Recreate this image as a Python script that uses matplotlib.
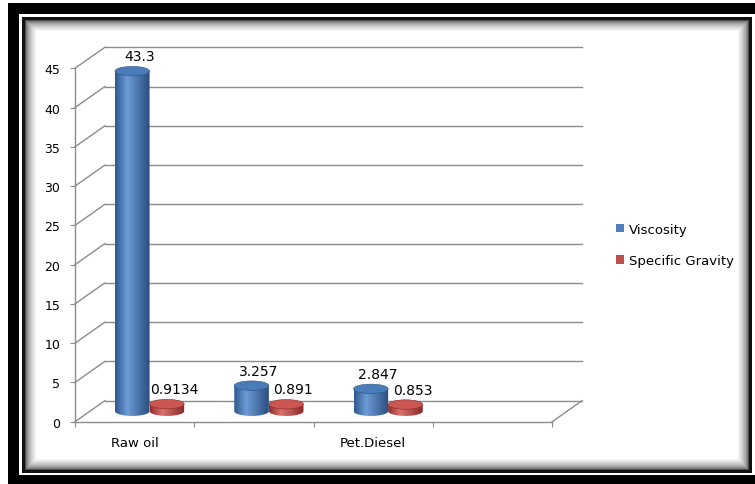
import numpy as np
import matplotlib.pyplot as plt
from matplotlib.colors import to_rgb
from matplotlib.patches import Ellipse, Patch, Polygon, Rectangle

# chart values
categories = ['Raw oil', '', 'Pet.Diesel', '']
viscosity = [43.3, 3.257, 2.847, np.nan]
specific_gravity = [0.9134, 0.891, 0.853, np.nan]
y_ticks = [0, 5, 10, 15, 20, 25, 30, 35, 40, 45]
series_names = ['Viscosity', 'Specific Gravity']

# look of the pseudo-3D chart
DEPTH_X = 0.25      # category units
DEPTH_Y = 2.67      # value units
BAR_W = 0.29
ELL_H = 1.2
GRID = '#8c8c8c'

styles = [
    dict(face='#4F81BD', top='#4a7cb9', edge='#2c5283',
         shades=([0, 0.35, 1], ['#2f5a90', '#6d9bd6', '#2a4e7e'])),
    dict(face='#C0504D', top='#cc5752', edge='#8a2a28',
         shades=([0, 0.35, 1], ['#8f2f2c', '#d9726d', '#892927'])),
]


def cylinder(ax, xc, value, base, style, z):
    x0, x1 = xc - BAR_W / 2, xc + BAR_W / 2
    top = base + value
    t = np.linspace(0, np.pi, 60)
    bottom = np.column_stack([xc - BAR_W / 2 * np.cos(t),
                              base - ELL_H / 2 * np.sin(t)])
    outline = np.vstack([[x0, top], bottom, [x1, top]])
    body = Polygon(outline, closed=True, facecolor='none',
                   edgecolor='none', zorder=z)
    ax.add_patch(body)

    stops, cols = style['shades']
    cols = [to_rgb(c) for c in cols]
    u = np.linspace(0, 1, 64)
    grad = np.stack([np.interp(u, stops, [c[k] for c in cols])
                     for k in range(3)], axis=-1)[None, :, :]
    im = ax.imshow(grad, extent=(x0, x1, base - ELL_H / 2, top),
                   aspect='auto', interpolation='bilinear', zorder=z)
    im.set_clip_path(body)

    ax.add_patch(Ellipse((xc, top), BAR_W, ELL_H, facecolor=style['top'],
                         edgecolor=style['edge'], lw=0.4, zorder=z + 0.1))
    return top


fig = plt.figure(figsize=(7.55, 4.85), dpi=100)

# framed background in pixel units
bg = fig.add_axes([0, 0, 1, 1], zorder=0)
bg.set_xlim(0, 755)
bg.set_ylim(485, 0)
bg.axis('off')
bg.add_patch(Rectangle((8, 4), 760, 490, facecolor='black', edgecolor='none'))
bg.add_patch(Rectangle((19, 15), 745, 461, facecolor='white', edgecolor='none'))
bg.add_patch(Rectangle((22, 18), 730, 456, facecolor='#111111', edgecolor='none'))
n_ring = 11
for i in range(n_ring + 1):
    inset = 3 + i
    level = 0.3 + 0.7 * (i / n_ring) ** 0.55
    bg.add_patch(Rectangle((22 + inset, 18 + inset), 730 - 2 * inset,
                           456 - 2 * inset, facecolor=(level,) * 3,
                           edgecolor='none'))

# plot area: left wall, floor and back wall
n = len(categories)
ax = fig.add_axes([75 / 755, 1 - 422.7 / 485, 507 / 755, 374.4 / 485], zorder=1)
ax.patch.set_visible(False)
for s in ax.spines.values():
    s.set_visible(False)

for v in y_ticks:
    ax.plot([DEPTH_X, n + DEPTH_X], [v + DEPTH_Y] * 2, color=GRID, lw=1,
            zorder=1, clip_on=False)
    ax.plot([0, DEPTH_X], [v, v + DEPTH_Y], color=GRID, lw=1, zorder=1,
            clip_on=False)
ax.plot([0, 0], [0, y_ticks[-1]], color=GRID, lw=1, zorder=1, clip_on=False)
ax.plot([0, n], [0, 0], color=GRID, lw=1, zorder=1, clip_on=False)
ax.plot([n, n + DEPTH_X], [0, DEPTH_Y], color=GRID, lw=1, zorder=1,
        clip_on=False)

# cylinders and value labels
offsets = [-BAR_W / 2, BAR_W / 2]
for k, values in enumerate([viscosity, specific_gravity]):
    for i, v in enumerate(values):
        if np.isnan(v):
            continue
        xc = i + 0.5 + offsets[k] + DEPTH_X / 2
        top = cylinder(ax, xc, v, DEPTH_Y / 2, styles[k], z=3 - k)
        ax.annotate(str(v), (xc, top), xytext=(7, 15),
                    textcoords='offset pixels', ha='center', va='center',
                    fontsize=10, color='black', zorder=5)

ax.set_xlim(0, n + DEPTH_X)
ax.set_ylim(0, y_ticks[-1] + DEPTH_Y)

ax.set_yticks(y_ticks)
ax.tick_params(axis='y', length=3.6, width=0.8, color=GRID, labelsize=9,
               pad=7)
ax.set_xticks(np.arange(n + 1))
ax.set_xticklabels([])
ax.set_xticks(np.arange(n) + 0.5, minor=True)
ax.set_xticklabels(categories, minor=True)
ax.tick_params(axis='x', which='major', length=3.6, width=0.8, color=GRID)
ax.tick_params(axis='x', which='minor', length=0, labelsize=9.5, pad=10)

handles = [Patch(facecolor=st['face'], edgecolor='none') for st in styles]
fig.legend(handles, series_names, loc='center left',
           bbox_to_anchor=(616 / 755, 1 - 246 / 485), frameon=False,
           fontsize=9.5, handlelength=0.6, handleheight=0.6,
           handletextpad=0.35, labelspacing=1.4, borderpad=0,
           borderaxespad=0)

fig.savefig('out.png', dpi=100)
